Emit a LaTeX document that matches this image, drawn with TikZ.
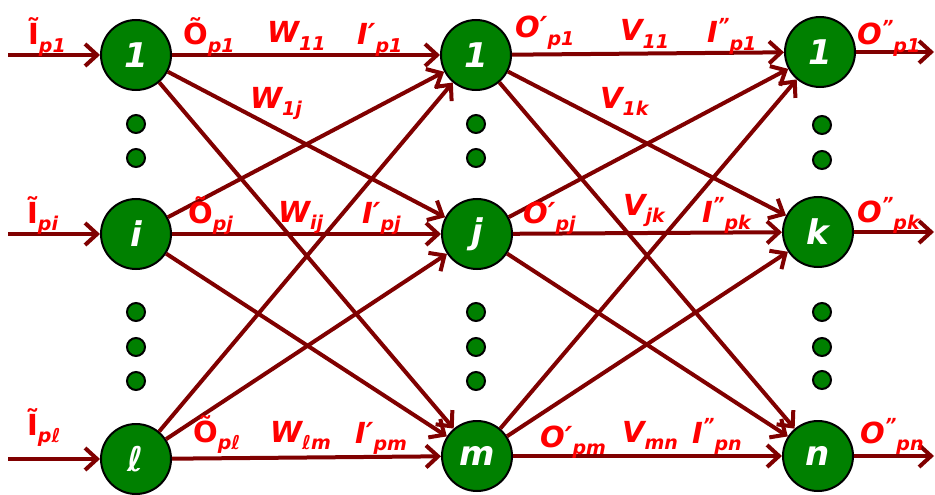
\documentclass[tikz,border=0pt]{standalone}
\usepackage{fontspec}
\setmainfont{DejaVu Sans}
\usetikzlibrary{arrows.meta}
\definecolor{dialinecolor}{rgb}{0.501961, 0.000000, 0.000000}
\definecolor{diafillcolor}{rgb}{0.000000, 0.501961, 0.000000}
\definecolor{diatextcolor}{rgb}{1.000000, 0.000000, 0.000000}
\newcommand{\lsub}[1]{\raisebox{-0.26em}{\fontsize{19}{19}\selectfont #1}}
\newcommand{\dprime}{\raisebox{0.40em}{\fontsize{18}{18}\selectfont "}}

\begin{document}
\begin{tikzpicture}[x=1pt,y=-1pt,
  neuron/.style={circle,draw=black,line width=2pt,fill=diafillcolor,minimum size=70pt,inner sep=0pt,
    text=white,font=\bfseries\itshape\fontsize{34}{34}\selectfont},
  dotnode/.style={circle,draw=black,line width=2pt,fill=diafillcolor,minimum size=18pt,inner sep=0pt},
  link/.style={draw=dialinecolor,line width=4pt,-{Straight Barb[length=12pt,width=22pt]}},
  lbl/.style={text=diatextcolor,anchor=base west,inner sep=0pt,font=\bfseries\itshape\fontsize{29}{29}\selectfont}]
\useasboundingbox (0,0) rectangle (935,495);
% input layer
\node[neuron] (a1) at (136,55) {1};
\node[neuron] (ai) at (136,234) {i};
\node[neuron] (al) at (136,459) {ℓ};
% hidden layer
\node[neuron] (b1) at (476,55) {1};
\node[neuron] (bj) at (477,234) {j};
\node[neuron] (bm) at (477,456) {m};
% output layer
\node[neuron] (c1) at (820,52) {1};
\node[neuron] (ck) at (818,232) {k};
\node[neuron] (cn) at (818,456) {n};
% dots
\node[dotnode] (da1) at (136,124) {};
\node[dotnode] (da2) at (136,158) {};
\node[dotnode] (da3) at (136,312) {};
\node[dotnode] (da4) at (136,347) {};
\node[dotnode] (da5) at (136,381) {};
\node[dotnode] (db1) at (476,124) {};
\node[dotnode] (db2) at (476,158) {};
\node[dotnode] (db3) at (476,312) {};
\node[dotnode] (db4) at (476,347) {};
\node[dotnode] (db5) at (476,381) {};
\node[dotnode] (dc1) at (822,125) {};
\node[dotnode] (dc2) at (822,160) {};
\node[dotnode] (dc3) at (822,312) {};
\node[dotnode] (dc4) at (822,347) {};
\node[dotnode] (dc5) at (822,380) {};
% free ends
\coordinate (in1) at (8,55);
\coordinate (ini) at (8,234);
\coordinate (inl) at (8,459);
\coordinate (out1) at (934,52);
\coordinate (outk) at (934,232);
\coordinate (outn) at (934,456);
% connectors
\draw[link] (in1) -- (a1);
\draw[link] (ini) -- (ai);
\draw[link] (inl) -- (al);
\draw[link] (a1) -- (b1);
\draw[link] (a1) -- (bj);
\draw[link] (a1) -- (bm);
\draw[link] (ai) -- (b1);
\draw[link] (ai) -- (bj);
\draw[link] (ai) -- (bm);
\draw[link] (al) -- (b1);
\draw[link] (al) -- (bj);
\draw[link] (al) -- (bm);
\draw[link] (b1) -- (c1);
\draw[link] (b1) -- (ck);
\draw[link] (b1) -- (cn);
\draw[link] (bj) -- (c1);
\draw[link] (bj) -- (ck);
\draw[link] (bj) -- (cn);
\draw[link] (bm) -- (c1);
\draw[link] (bm) -- (ck);
\draw[link] (bm) -- (cn);
\draw[link] (c1) -- (out1);
\draw[link] (ck) -- (outk);
\draw[link] (cn) -- (outn);
% labels, row 1
\node[lbl] (tIp1) at (28,45) {\upshape Ĩ\itshape\lsub{p1}};
\node[lbl] (tOp1) at (183,45) {\upshape Õ\itshape\lsub{p1}};
\node[lbl] (W11) at (267,43) {W\lsub{11}};
\node[lbl] (Ip1) at (357,45) {I′\lsub{p1}};
\node[lbl] (Op1) at (515,38) {O′\lsub{p1}};
\node[lbl] (V11) at (620,41) {V\lsub{11}};
\node[lbl] (IIp1) at (707,43) {I\dprime\lsub{p1}};
\node[lbl] (OOp1) at (857,45) {O\dprime\lsub{p1}};
\node[lbl] (W1j) at (250,108) {W\lsub{1j}};
\node[lbl] (V1k) at (600,108) {V\lsub{1k}};
% labels, row 2
\node[lbl] (tIpi) at (27,223) {\upshape Ĩ\itshape\lsub{pi}};
\node[lbl] (tOpj) at (188,223) {\upshape Õ\itshape\lsub{pj}};
\node[lbl] (Wij) at (278,222) {W\lsub{ij}};
\node[lbl] (Ipj) at (362,223) {I′\lsub{pj}};
\node[lbl] (Opj) at (523,223) {O′\lsub{pj}};
\node[lbl] (Vjk) at (623,215) {V\lsub{jk}};
\node[lbl] (IIpk) at (702,222) {I\dprime\lsub{pk}};
\node[lbl] (OOpk) at (857,222) {O\dprime\lsub{pk}};
% labels, row 3
\node[lbl] (tIpl) at (27,435) {\upshape Ĩ\itshape\lsub{pℓ}};
\node[lbl] (tOpl) at (193,442) {\upshape Õ\itshape\lsub{pℓ}};
\node[lbl] (Wlm) at (270,442) {W\lsub{ℓm}};
\node[lbl] (Ipm) at (355,443) {I′\lsub{pm}};
\node[lbl] (Opm) at (540,447) {O′\lsub{pm}};
\node[lbl] (Vmn) at (622,442) {V\lsub{mn}};
\node[lbl] (IIpn) at (692,443) {I\dprime\lsub{pn}};
\node[lbl] (OOpn) at (860,443) {O\dprime\lsub{pn}};
\end{tikzpicture}
\end{document}
